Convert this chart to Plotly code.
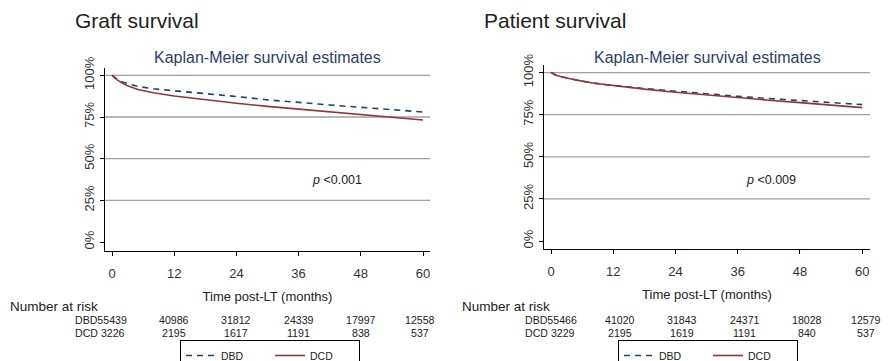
import plotly.graph_objects as go

# ---------------- data ----------------
months = [0, 0.5, 1, 2, 3, 5, 8, 12, 18, 24, 30, 36, 42, 48, 54, 60]

graft_dbd = [100, 98.8, 97.8, 96.0, 95.0, 93.3, 91.9, 90.8, 89.0, 87.3, 85.3, 83.6, 82.2, 80.8, 79.4, 78.0]
graft_dcd = [100, 98.6, 97.3, 95.3, 93.8, 91.5, 89.6, 87.6, 85.2, 83.2, 81.4, 79.7, 78.1, 76.5, 74.8, 73.2]

patient_dbd = [100, 99.0, 98.4, 97.5, 96.8, 95.5, 93.8, 92.3, 90.5, 88.9, 87.2, 85.9, 84.6, 83.4, 82.2, 81.0]
patient_dcd = [100, 99.0, 98.4, 97.5, 96.8, 95.5, 93.8, 92.2, 90.2, 88.3, 86.6, 85.1, 83.6, 82.2, 80.7, 79.2]

risk_times = [0, 12, 24, 36, 48, 60]
graft_risk_dbd = [55439, 40986, 31812, 24339, 17997, 12558]
graft_risk_dcd = [3226, 2195, 1617, 1191, 838, 537]
patient_risk_dbd = [55466, 41020, 31843, 24371, 18028, 12579]
patient_risk_dcd = [3229, 2195, 1619, 1191, 840, 537]

x_ticks = [0, 12, 24, 36, 48, 60]
y_ticks = [0, 25, 50, 75, 100]
y_tick_labels = ["0%", "25%", "50%", "75%", "100%"]
grid_levels = [25, 50, 75, 100]

panel_titles = ["Graft survival", "Patient survival"]
p_values = ["<i>p</i> <0.001", "<i>p</i> <0.009"]

# ---------------- style ----------------
FONT = "Liberation Sans, Arial, sans-serif"
NAVY = "#1a476f"
MAROON = "#90353b"
TXT = "#222222"
W, H = 890, 361
OFF = 8  # page body margin offset


def px(X):
    return (X - OFF) / W


def py(Y):
    return (H - (Y - OFF)) / H


fig = go.Figure()

panels = [
    dict(dbd=graft_dbd, dcd=graft_dcd, rd=graft_risk_dbd, rc=graft_risk_dcd,
         xa="x", ya="y", leg="legend"),
    dict(dbd=patient_dbd, dcd=patient_dcd, rd=patient_risk_dbd, rc=patient_risk_dcd,
         xa="x2", ya="y2", leg="legend2"),
]

for p in panels:
    fig.add_trace(go.Scatter(x=months, y=p["dbd"], mode="lines", name="DBD",
                             line=dict(color=NAVY, width=1.6, dash="6px,5px"),
                             xaxis=p["xa"], yaxis=p["ya"], legend=p["leg"]))
    fig.add_trace(go.Scatter(x=months, y=p["dcd"], mode="lines", name="DCD",
                             line=dict(color=MAROON, width=1.6),
                             xaxis=p["xa"], yaxis=p["ya"], legend=p["leg"]))

dom = [
    dict(x=[px(105), px(430)], y=[py(251), py(68)], xr=[-1.35, 61.35], yr=[-5.4, 104.4]),
    dict(x=[px(544), px(870)], y=[py(249), py(65)], xr=[-1.35, 61.5], yr=[-4.7, 104.5]),
]

axis_common = dict(showline=True, linecolor="black", linewidth=1.3, ticks="outside",
                   tickcolor="black", ticklen=4, tickwidth=1.3, showgrid=False,
                   zeroline=False, tickfont=dict(family=FONT, size=13, color="#333333"))

p_pos = [(43.4, 37.2), (42.4, 36.2)]
title_x = [73, 482]
nar_x = [8, 460]

for i, d in enumerate(dom):
    sfx = "" if i == 0 else "2"
    fig.layout["xaxis" + sfx] = dict(
        domain=d["x"], range=d["xr"], anchor="y" + sfx, tickvals=x_ticks,
        ticklabelstandoff=6,
        title=dict(text="Time post-LT (months)", font=dict(family=FONT, size=13, color=TXT), standoff=12),
        **axis_common)
    fig.layout["yaxis" + sfx] = dict(
        domain=d["y"], range=d["yr"], anchor="x" + sfx, tickvals=y_ticks,
        ticktext=y_tick_labels, tickangle=-90, ticklabelstandoff=1,
        **axis_common)

    for g in grid_levels:
        fig.add_shape(type="line", xref="x" + sfx + " domain", yref="y" + sfx,
                      x0=0, x1=1, y0=g, y1=g, layer="below",
                      line=dict(color="#a0a0a0", width=1.3))

    fig.add_annotation(xref="x" + sfx + " domain", yref="paper", x=0.5, y=py(57),
                       text="Kaplan-Meier survival estimates", showarrow=False,
                       font=dict(family=FONT, size=16, color="#2c3e6b"), yanchor="middle")
    fig.add_annotation(xref="paper", yref="paper", x=px(title_x[i]), y=py(20),
                       text=panel_titles[i], showarrow=False, xanchor="left", yanchor="middle",
                       font=dict(family=FONT, size=21, color=TXT))
    fig.add_annotation(xref="x" + sfx, yref="y" + sfx, x=p_pos[i][0], y=p_pos[i][1],
                       text=p_values[i], showarrow=False, xanchor="center", yanchor="middle",
                       font=dict(family=FONT, size=12.5, color=TXT))
    fig.add_annotation(xref="paper", yref="paper", x=px(nar_x[i]), y=py(306),
                       text="Number at risk", showarrow=False, xanchor="left", yanchor="middle",
                       font=dict(family=FONT, size=13.5, color=TXT))

for i, p in enumerate(panels):
    sfx = "" if i == 0 else "2"
    shift = 0 if i == 0 else 7
    first_shift = -39 if i == 0 else -28
    for row, (lab, vals) in enumerate([("DBD", p["rd"]), ("DCD ", p["rc"])]):
        yy = py(320 if row == 0 else 333)
        for t, v in zip(risk_times, vals):
            if t == 0:
                fig.add_annotation(xref="x" + sfx, yref="paper", x=t, y=yy, xshift=first_shift,
                                   text=f"{lab}{v}", showarrow=False, xanchor="left", yanchor="middle",
                                   font=dict(family=FONT, size=10.6, color=TXT))
            else:
                xs = shift if t < 60 else shift - 3
                fig.add_annotation(xref="x" + sfx, yref="paper", x=t, y=yy, xshift=xs,
                                   text=f"{v}", showarrow=False, xanchor="center", yanchor="middle",
                                   font=dict(family=FONT, size=10.6, color=TXT))

leg_common = dict(orientation="h", xanchor="left", yanchor="top", y=py(340),
                  bordercolor="black", borderwidth=1, bgcolor="white",
                  font=dict(family=FONT, size=10.5, color=TXT), entrywidth=44,
                  itemclick=False, itemdoubleclick=False)
fig.update_layout(
    legend=dict(x=px(180), **leg_common),
    legend2=dict(x=px(618), **leg_common),
    width=W, height=H,
    margin=dict(l=0, r=0, t=0, b=0, autoexpand=False),
    paper_bgcolor="white", plot_bgcolor="white",
    showlegend=True,
)

fig.write_html("out.html")
